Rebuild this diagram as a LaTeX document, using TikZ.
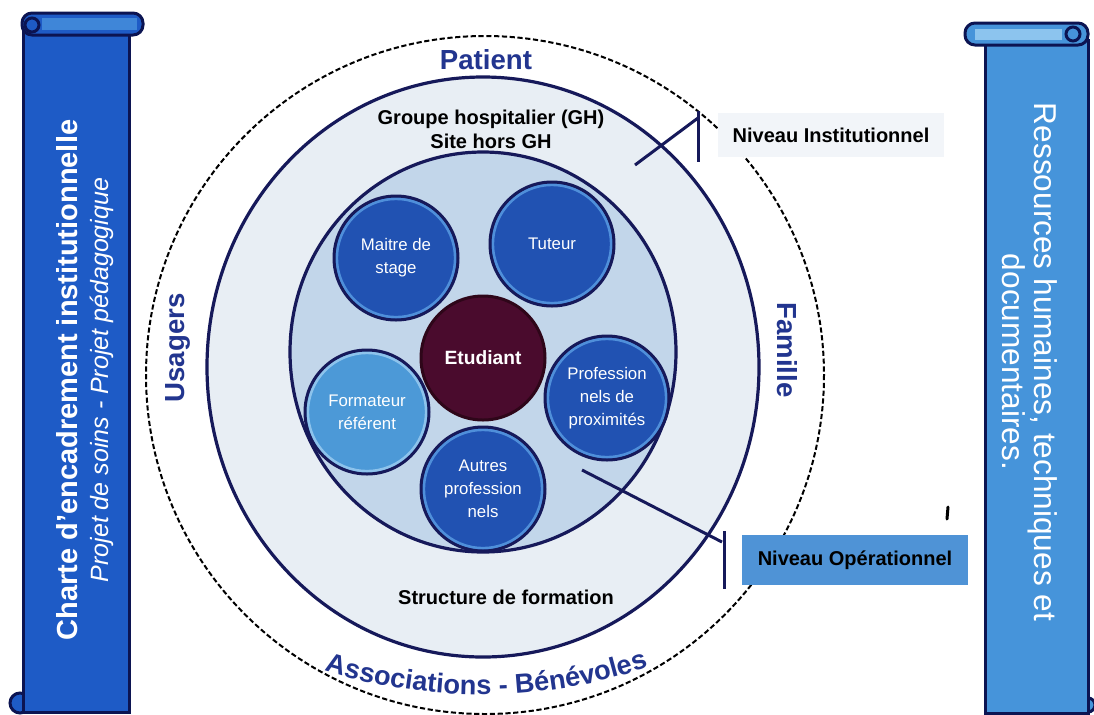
\documentclass[tikz,border=0pt]{standalone}
\usepackage{fontspec}
\setmainfont{Liberation Sans}
\usetikzlibrary{decorations.text}
\definecolor{navy}{HTML}{16195A}
\definecolor{scrollline}{HTML}{0C1452}
\definecolor{chartblue}{HTML}{1E5BC6}
\definecolor{chartlight}{HTML}{3F86D8}
\definecolor{resblue}{HTML}{4694DA}
\definecolor{reslight}{HTML}{8CC4EE}
\definecolor{labelnavy}{HTML}{22358F}
\definecolor{ringfill}{HTML}{E8EEF4}
\definecolor{corefill}{HTML}{C2D6EA}
\definecolor{rolefill}{HTML}{2152B2}
\definecolor{rolerim}{HTML}{4F8FDA}
\definecolor{formfill}{HTML}{4C99D7}
\definecolor{formrim}{HTML}{8DC3EC}
\definecolor{etudfill}{HTML}{4A0B2D}
\definecolor{etudline}{HTML}{2E0619}
\definecolor{ghost}{HTML}{F2F5F9}
\definecolor{opblue}{HTML}{4F93D6}
\begin{document}
\begin{tikzpicture}[x=0.5pt,y=-0.5pt,
	scroll/.style={draw=scrollline,line width=1.5pt},
	boundary/.style={draw=black,line width=1pt,dash pattern=on 2.6pt off 1.3pt},
	zone/.style={draw=navy,line width=1.6pt},
	role/.style={circle,draw=navy,line width=1.5pt,fill=rolefill,minimum size=62pt,
		inner sep=0pt,align=center,text=white,font=\fontsize{8.4}{11.5}\selectfont,
		path picture={\draw[rolerim,line width=1.4pt] (path picture bounding box.center) circle (29.6pt);}},
	trainer/.style={role,fill=formfill,
		path picture={\draw[formrim,line width=1.4pt] (path picture bounding box.center) circle (29.6pt);}},
	student/.style={role,fill=etudfill,draw=etudline,font=\bfseries\fontsize{9.6}{11.5}\selectfont,
		path picture={}},
	circlelabel/.style={text=labelnavy,font=\bfseries\fontsize{13.8}{15}\selectfont,inner sep=0pt},
	placelabel/.style={text=black,font=\bfseries\fontsize{10}{12}\selectfont,inner sep=0pt,align=center},
	levelbox/.style={font=\bfseries\fontsize{10}{12}\selectfont,inner sep=0pt,minimum height=22pt},
	bracket/.style={draw=navy,line width=1.5pt}]
\useasboundingbox (0,0) rectangle (1094,714);
\fill[white] (0,0) rectangle (1094,714);

% left scroll
\draw[scroll,fill=chartblue] (20,703) circle (10);
\draw[scroll,fill=chartblue] (23,22) rectangle (129,712);
\draw[scroll,fill=chartblue,rounded corners=5pt] (22,13) rectangle (143,35);
\fill[chartlight] (42,18) rectangle (137,30);
\draw[scroll,fill=chartblue] (32,25) circle (7);
\node[rotate=90,text=white,align=center,font=\bfseries\fontsize{14.5}{15.5}\selectfont] (charte) at (85,380)
	{Charte d'encadrement institutionnelle\\{\mdseries\itshape\fontsize{12.5}{15.5}\selectfont Projet de soins - Projet pédagogique}};

% right scroll
\draw[scroll,fill=resblue] (1088,705) circle (7);
\draw[scroll,fill=resblue] (985,40) rectangle (1088,713);
\draw[scroll,fill=resblue,rounded corners=5pt] (965,23) rectangle (1088,45);
\fill[reslight] (975,29) rectangle (1062,40);
\draw[scroll,fill=resblue] (1073,34) circle (7);
\node[rotate=-90,text=white,align=center,font=\fontsize{15.8}{14.5}\selectfont] (ressources) at (1030,362)
	{Ressources humaines, techniques et\\documentaires.};

% circles
\draw[boundary] (485,375) circle (339);
\draw[zone,fill=ringfill] (483,367) ellipse [x radius=276, y radius=290];
\draw[zone,fill=corefill] (483,352) ellipse [x radius=193, y radius=200];

\node[role] (maitre) at (396,258) {Maitre de\\stage};
\node[role] (tuteur) at (552,244) {Tuteur};
\node[student] (etudiant) at (483,358) {Etudiant};
\node[trainer] (formateur) at (367,412) {Formateur\\référent};
\node[role] (proximite) at (607,398) {Profession\\nels de\\proximités};
\node[role] (autres) at (483,489) {Autres\\profession\\nels};

% labels
\node[circlelabel] (patient) at (486,60) {Patient};
\node[circlelabel,rotate=90] (usagers) at (178,348) {Usagers};
\node[circlelabel,rotate=-90] (famille) at (787,350) {Famille};
\path[decorate,decoration={text along path,text align=center,
	text={|\color{labelnavy}\bfseries\fontsize{13.6}{15}\selectfont|Associations - Bénévoles}}]
	(316,668) .. controls (425,704) and (548,704) .. (657,664);
\node[placelabel] (groupe) at (491,129) {Groupe hospitalier (GH)\\Site hors GH};
\node[placelabel] (structure) at (506,597) {Structure de formation};

% levels
\node[levelbox,fill=ghost,minimum width=113pt] (institutionnel) at (831,135) {Niveau Institutionnel};
\node[levelbox,fill=opblue,minimum width=113pt,minimum height=25pt] (operationnel) at (855,560) {Niveau Opérationnel};
\coordinate (instfoot) at (635,165);
\coordinate (insthead) at (698,118);
\coordinate (insttop) at (698,111);
\coordinate (instbot) at (698,162);
\draw[bracket] (instfoot) -- (insthead);
\draw[bracket] (insttop) -- (instbot);
\coordinate (opfoot) at (582,470);
\coordinate (ophead) at (722,542);
\coordinate (optop) at (724,531);
\coordinate (opbot) at (724,589);
\draw[bracket] (opfoot) -- (ophead);
\draw[bracket] (optop) -- (opbot);
\coordinate (ticka) at (948,507);
\coordinate (tickb) at (947,519);
\draw[line width=1.5pt,line cap=round] (ticka) -- (tickb);
\end{tikzpicture}
\end{document}
